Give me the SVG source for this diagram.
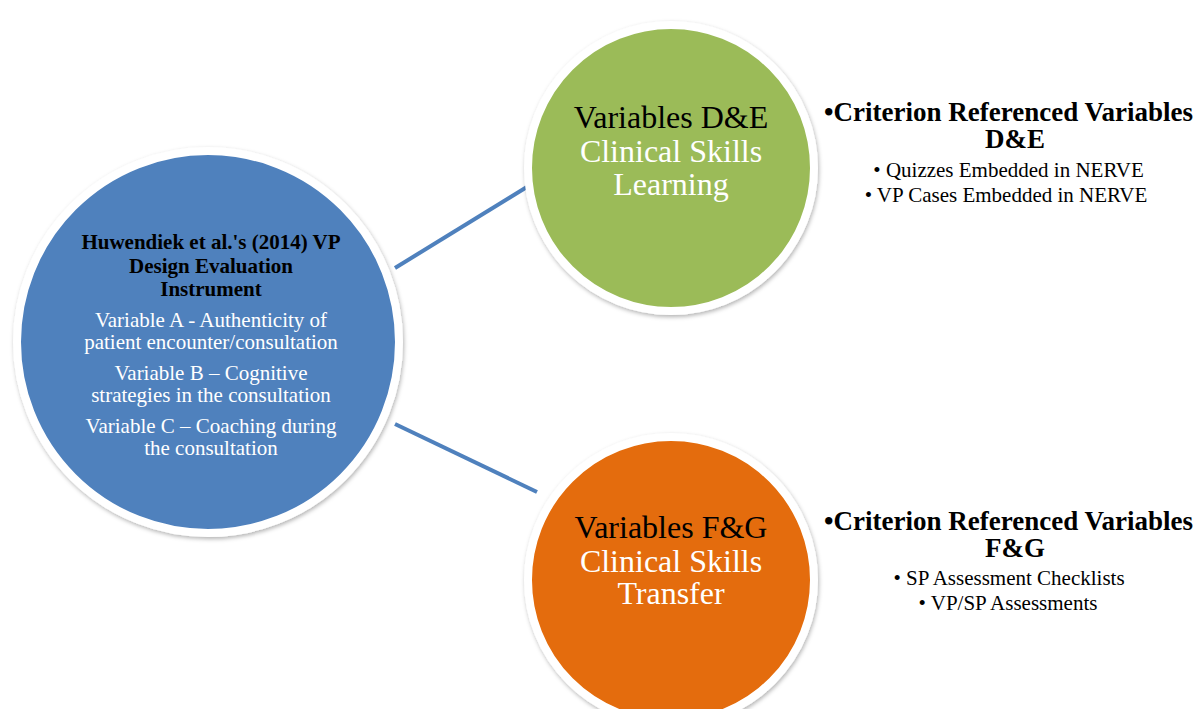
<svg xmlns="http://www.w3.org/2000/svg" width="1201" height="709" viewBox="0 0 1201 709">
<defs>
<filter id="sh" x="-10%" y="-10%" width="120%" height="120%">
<feDropShadow dx="1" dy="2" stdDeviation="2" flood-color="#000" flood-opacity="0.3"/>
</filter>
</defs>
<style>
text{font-family:"Liberation Serif","Times New Roman",serif;text-anchor:middle}
.ring{stroke:#fff;stroke-width:8;filter:url(#sh)}
.b{font-weight:bold}
.blk{fill:#000}
.wht{fill:#fff}
.conn{stroke:#4F81BD;stroke-width:4;fill:none}
</style>
<rect width="1201" height="709" fill="#fff"/>
<g id="connectors">
<line class="conn" x1="395" y1="268" x2="535" y2="182"/>
<line class="conn" x1="395" y1="424" x2="537" y2="492"/>
</g>
<g id="node-huwendiek">
<circle class="ring" cx="208" cy="342" r="191" fill="#4F81BD"/>
<text class="b blk" font-size="21" x="211"><tspan x="211" y="249">Huwendiek et al.'s (2014) VP</tspan><tspan x="211" y="273">Design Evaluation</tspan><tspan x="211" y="296">Instrument</tspan></text>
<text class="wht" font-size="21" x="211"><tspan x="211" y="327">Variable A - Authenticity of</tspan><tspan x="211" y="349">patient encounter/consultation</tspan><tspan x="211" y="380">Variable B – Cognitive</tspan><tspan x="211" y="402">strategies in the consultation</tspan><tspan x="211" y="433">Variable C – Coaching during</tspan><tspan x="211" y="455">the consultation</tspan></text>
</g>
<g id="node-de">
<circle class="ring" cx="671" cy="168" r="143" fill="#9BBB59"/>
<text font-size="32" x="671"><tspan class="blk" x="671" y="128">Variables D&amp;E</tspan><tspan class="wht" x="671" y="162">Clinical Skills</tspan><tspan class="wht" x="671" y="195">Learning</tspan></text>
</g>
<g id="node-fg">
<circle class="ring" cx="671" cy="580" r="143" fill="#E46C0A"/>
<text font-size="32" x="671"><tspan class="blk" x="671" y="538">Variables F&amp;G</tspan><tspan class="wht" x="671" y="572">Clinical Skills</tspan><tspan class="wht" x="671" y="604">Transfer</tspan></text>
</g>
<g id="node-criterion-de">
<text class="b blk" font-size="27"><tspan x="1008.5" y="121">•Criterion Referenced Variables</tspan><tspan x="1015" y="148">D&amp;E</tspan></text>
<text class="blk" font-size="21"><tspan x="1008.5" y="177">• Quizzes Embedded in NERVE</tspan><tspan x="1006" y="202">• VP Cases Embedded in NERVE</tspan></text>
</g>
<g id="node-criterion-fg">
<text class="b blk" font-size="27"><tspan x="1008.5" y="530">•Criterion Referenced Variables</tspan><tspan x="1015" y="557">F&amp;G</tspan></text>
<text class="blk" font-size="21"><tspan x="1009" y="585">• SP Assessment Checklists</tspan><tspan x="1008" y="610">• VP/SP Assessments</tspan></text>
</g>
</svg>
